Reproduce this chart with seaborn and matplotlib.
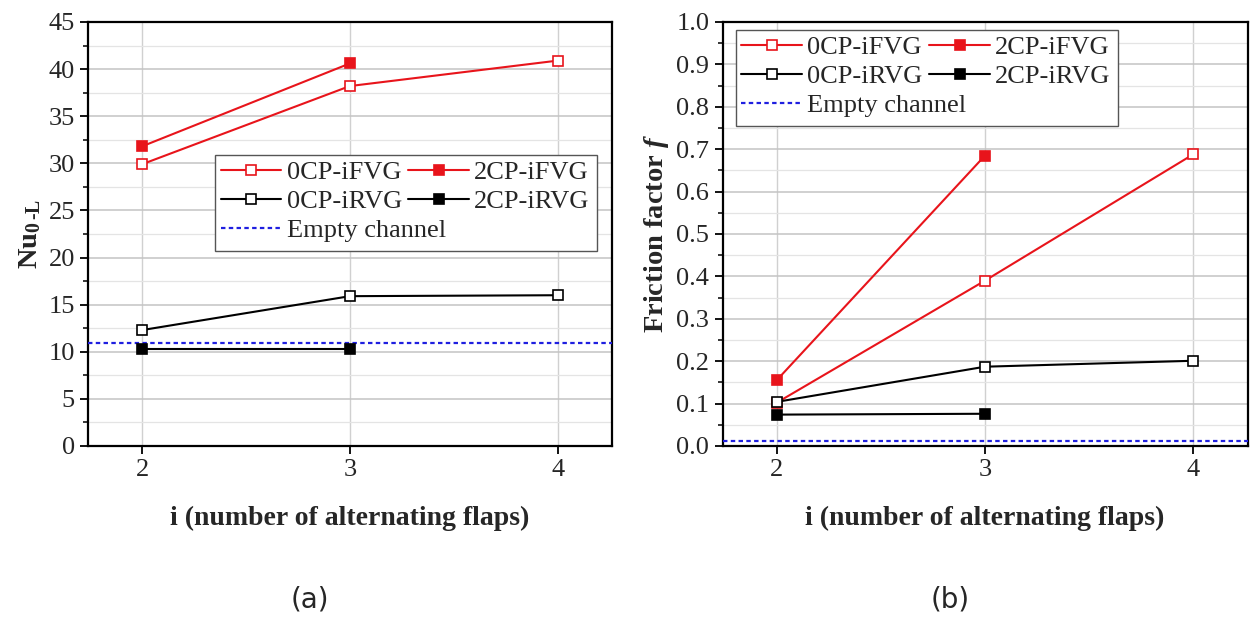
import numpy as np
import pandas as pd
import matplotlib
matplotlib.use("Agg")
import matplotlib.pyplot as plt
import seaborn as sns
from matplotlib.ticker import MultipleLocator, FormatStrFormatter
from matplotlib.patches import Rectangle

sns.set_theme(style="white")
plt.rcParams['font.family'] = ['Liberation Serif', 'DejaVu Serif']
plt.rcParams['mathtext.fontset'] = 'custom'
plt.rcParams['mathtext.rm'] = 'Liberation Serif:bold'
plt.rcParams['mathtext.bf'] = 'Liberation Serif:bold'
plt.rcParams['mathtext.it'] = 'Liberation Serif:italic:bold'

# ---- data ----
i_vals = [2, 3, 4]
i_vals2 = [2, 3]

nu_0cp_ifvg = [29.9, 38.2, 40.9]
nu_2cp_ifvg = [31.8, 40.6]
nu_0cp_irvg = [12.3, 15.9, 16.0]
nu_2cp_irvg = [10.3, 10.3]
nu_empty = 10.9

f_0cp_ifvg = [0.102, 0.390, 0.688]
f_2cp_ifvg = [0.155, 0.685]
f_0cp_irvg = [0.104, 0.187, 0.201]
f_2cp_irvg = [0.074, 0.076]
f_empty = 0.012

labels = ["0CP-iFVG", "2CP-iFVG", "0CP-iRVG", "2CP-iRVG"]
empty_label = "Empty channel"
xticks = [2, 3, 4]

RED = "#e8141b"
BLK = "#000000"
BLUE = "#1f1fe0"

fig = plt.figure(figsize=(12.5, 6.19), dpi=100)
axL = fig.add_axes([0.0704, 0.2795, 0.419, 0.685])
axR = fig.add_axes([0.578, 0.2795, 0.42, 0.685])

LEG_KW = dict(fontsize=19, frameon=False, handlelength=2.3, handletextpad=0.2,
              columnspacing=0.25, labelspacing=0.22, borderpad=0.2,
              borderaxespad=0)


def draw(ax, series, empty, ylim, major, minor, ylabel, legend_pos):
    styles = [(RED, "white"), (RED, RED), (BLK, "white"), (BLK, BLK)]
    xs = [i_vals, i_vals2, i_vals, i_vals2]
    for x, y, lab, (c, fc) in zip(xs, series, labels, styles):
        sns.lineplot(x=x, y=y, ax=ax, color=c, marker="s", markersize=7.5,
                     markerfacecolor=fc, markeredgecolor=c, markeredgewidth=1.2,
                     linewidth=1.5, label=lab, zorder=5)
    ax.axhline(empty, color=BLUE, linestyle=(0, (2, 1.5)), linewidth=1.6,
               label=empty_label, zorder=4)
    ax.set_xlim(1.74, 4.26)
    ax.set_ylim(*ylim)
    ax.set_xticks(xticks)
    ax.yaxis.set_major_locator(MultipleLocator(major))
    ax.yaxis.set_minor_locator(MultipleLocator(minor))
    ax.grid(True, which="major", axis="y", color="#c4c4c4", linewidth=1.1)
    ax.grid(True, which="minor", axis="y", color="#e4e4e4", linewidth=0.9)
    ax.grid(True, which="major", axis="x", color="#d0d0d0", linewidth=1.0)
    ax.set_axisbelow(True)
    for s in ax.spines.values():
        s.set_color("black")
        s.set_linewidth(1.6)
    ax.tick_params(axis="both", which="major", direction="out", length=6,
                   width=1.3, color="black", labelsize=19, left=True, bottom=True)
    ax.tick_params(axis="y", which="minor", direction="out", length=3.5,
                   width=1.1, color="black", left=True)
    ax.set_xlabel("i (number of alternating flaps)", fontsize=20,
                  fontweight="bold", labelpad=18)
    ax.set_ylabel(ylabel, fontsize=20.5, fontweight="bold", labelpad=4)

    h, l = ax.get_legend_handles_labels()
    order = [0, 2, 1, 3]  # column-wise fill -> rows: (0CP-iFVG, 2CP-iFVG), (0CP-iRVG, 2CP-iRVG)
    leg1 = ax.legend([h[k] for k in order], [l[k] for k in order], ncol=2,
                     loc="upper left", bbox_to_anchor=legend_pos, **LEG_KW)
    ax.add_artist(leg1)
    fig.canvas.draw()
    bb1 = leg1.get_window_extent().transformed(ax.transAxes.inverted())
    leg2 = ax.legend([h[4]], [l[4]], loc="upper left",
                     bbox_to_anchor=(legend_pos[0], bb1.y0 + 0.012), **LEG_KW)
    fig.canvas.draw()
    bb2 = leg2.get_window_extent().transformed(ax.transAxes.inverted())
    x0 = min(bb1.x0, bb2.x0)
    x1 = max(bb1.x1, bb2.x1)
    y0 = bb2.y0 - 0.008
    y1 = bb1.y1
    rect = Rectangle((x0, y0), x1 - x0 + 0.004, y1 - y0, transform=ax.transAxes,
                     facecolor="white", edgecolor="#555555", linewidth=1.0,
                     zorder=6)
    ax.add_patch(rect)
    leg1.set_zorder(7)
    leg2.set_zorder(7)


draw(axL, [nu_0cp_ifvg, nu_2cp_ifvg, nu_0cp_irvg, nu_2cp_irvg], nu_empty,
     (0, 45), 5, 2.5, r"$\mathbf{Nu_{0\,\text{-}L}}$", (0.243, 0.686))
draw(axR, [f_0cp_ifvg, f_2cp_ifvg, f_0cp_irvg, f_2cp_irvg], f_empty,
     (0, 1.0), 0.1, 0.05, r"Friction factor $f$", (0.026, 0.981))
axR.yaxis.set_major_formatter(FormatStrFormatter("%.1f"))

fig.text(0.248, 0.018, "(a)", fontsize=20, family="DejaVu Sans", ha="center")
fig.text(0.76, 0.018, "(b)", fontsize=20, family="DejaVu Sans", ha="center")

fig.savefig("out.png", dpi=100)
